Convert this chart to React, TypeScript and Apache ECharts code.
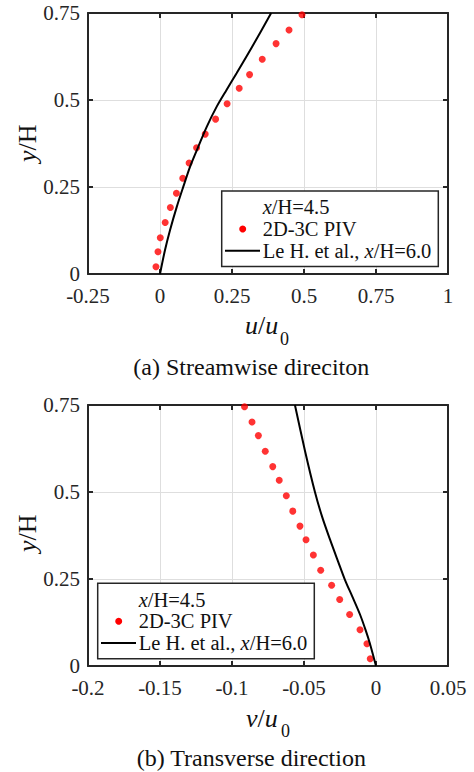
import React, { useEffect, useRef } from "react";
import * as echarts from "echarts";

// Wall-normal positions of the PIV samples (y/H)
const pivY = [0.021, 0.064, 0.104, 0.148, 0.191, 0.232, 0.275, 0.319, 0.363, 0.402, 0.445, 0.489, 0.534, 0.573, 0.617, 0.662, 0.701, 0.745];
// Streamwise velocity u/u0 from 2D-3C PIV at x/H = 4.5
const pivU = [-0.014, -0.007, 0.001, 0.018, 0.036, 0.057, 0.079, 0.101, 0.127, 0.157, 0.193, 0.233, 0.275, 0.311, 0.355, 0.403, 0.448, 0.493];
// Transverse velocity v/u0 from 2D-3C PIV at x/H = 4.5
const pivV = [-0.004, -0.0063, -0.0111, -0.0183, -0.0252, -0.0308, -0.0384, -0.0435, -0.0486, -0.0528, -0.0578, -0.0623, -0.0672, -0.0717, -0.0769, -0.0817, -0.0861, -0.0913];

// Le H. et al. streamwise profile at x/H = 6.0
const leUY = [0, 0.069, 0.126, 0.193, 0.251, 0.308, 0.366, 0.423, 0.481, 0.529, 0.577, 0.653, 0.75];
const leU = [0, 0.0174, 0.0347, 0.0582, 0.081, 0.1042, 0.133, 0.1622, 0.1969, 0.231, 0.266, 0.32, 0.386];
// Le H. et al. transverse profile at x/H = 6.0
const leVY = [0, 0.064, 0.103, 0.148, 0.2, 0.247, 0.3, 0.363, 0.43, 0.5, 0.618, 0.75];
const leV = [0, -0.0042, -0.0072, -0.0111, -0.0165, -0.0215, -0.0263, -0.0319, -0.0375, -0.0424, -0.0493, -0.0563];

// Axis ranges and ticks
const uTicks = { min: -0.25, max: 1, interval: 0.25 };
const vTicks = { min: -0.2, max: 0.05, interval: 0.05 };
const yTicks = { min: 0, max: 0.75, interval: 0.25 };

const FONT = "Liberation Serif";
const INK = "#262626";
const TEXT = "#111111";

const zip = (xs: number[], ys: number[]) => xs.map((x, i) => [x, ys[i]]);

function mainX(grid: number, t: { min: number; max: number; interval: number }) {
  return {
    type: "value",
    gridIndex: grid,
    position: "bottom",
    ...t,
    axisLine: { show: true, onZero: false, lineStyle: { color: INK, width: 2 } },
    axisTick: { show: true, inside: true, length: 5, lineStyle: { color: INK, width: 2 } },
    axisLabel: {
      show: true,
      margin: 11.5,
      fontSize: 21,
      fontFamily: FONT,
      color: INK,
      formatter: (v: number) => String(+v.toFixed(2)),
    },
    splitLine: { show: true, lineStyle: { color: "#dedede", width: 1 } },
  };
}

function sideAxis(grid: number, position: string, t: { min: number; max: number; interval: number }) {
  return {
    type: "value",
    gridIndex: grid,
    position,
    ...t,
    axisLine: { show: true, onZero: false, lineStyle: { color: INK, width: 2 } },
    axisTick: { show: true, inside: true, length: 5, lineStyle: { color: INK, width: 2 } },
    axisLabel: { show: false },
    splitLine: { show: false },
  };
}

function mainY(grid: number) {
  return {
    type: "value",
    gridIndex: grid,
    position: "left",
    ...yTicks,
    axisLine: { show: true, onZero: false, lineStyle: { color: INK, width: 2 } },
    axisTick: { show: true, inside: true, length: 5, lineStyle: { color: INK, width: 2 } },
    axisLabel: {
      show: true,
      margin: 8,
      fontSize: 21,
      fontFamily: FONT,
      color: INK,
      formatter: (v: number) => String(+v.toFixed(2)),
    },
    splitLine: { show: true, lineStyle: { color: "#dedede", width: 1 } },
  };
}

const rich = {
  i: { fontStyle: "italic", fontFamily: FONT, fontSize: 20.5, fill: TEXT },
  n: { fontFamily: FONT, fontSize: 20.5, fill: TEXT },
};
const richName = {
  i: { fontStyle: "italic", fontFamily: FONT, fontSize: 26, fill: TEXT },
  n: { fontFamily: FONT, fontSize: 26, fill: TEXT },
};

function legend(left: number, top: number) {
  const tx = left + 41;
  return [
    {
      type: "rect",
      z: 10,
      shape: { x: left, y: top, width: 216.6, height: 75.5 },
      style: { fill: "#fff", stroke: INK, lineWidth: 1.5 },
    },
    {
      type: "text",
      z: 11,
      x: tx,
      y: top + 16.3,
      style: {
        text: "{i|x}{n|/H=4.5}",
        rich,
        fontSize: 20.5,
        fontFamily: FONT,
        fill: TEXT,
        textAlign: "left",
        textVerticalAlign: "middle",
      },
    },
    {
      type: "circle",
      z: 11,
      shape: { cx: left + 21, cy: top + 38, r: 3.5 },
      style: { fill: "#ff0000" },
    },
    {
      type: "text",
      z: 11,
      x: tx,
      y: top + 38,
      style: {
        text: "2D-3C PIV",
        fontSize: 20.5,
        fontFamily: FONT,
        fill: TEXT,
        textAlign: "left",
        textVerticalAlign: "middle",
      },
    },
    {
      type: "line",
      z: 11,
      shape: { x1: left + 3.3, y1: top + 59.7, x2: left + 38.3, y2: top + 59.7 },
      style: { stroke: "#000", lineWidth: 2 },
    },
    {
      type: "text",
      z: 11,
      x: tx,
      y: top + 59.7,
      style: {
        text: "{n|Le H. et al., }{i|x}{n|/H=6.0}",
        rich,
        fontSize: 20.5,
        fontFamily: FONT,
        fill: TEXT,
        textAlign: "left",
        textVerticalAlign: "middle",
      },
    },
  ];
}

function axisName(letter: string, x: number, y: number) {
  return [
    {
      type: "text",
      x,
      y,
      style: {
        text: `{i|${letter}}{n|/}{i|u}`,
        rich: richName,
        fontSize: 26,
        fontFamily: FONT,
        fill: TEXT,
        textAlign: "left",
        textVerticalAlign: "middle",
      },
    },
    {
      type: "text",
      x: x + 35,
      y: y + 13,
      style: {
        text: "0",
        fontSize: 18,
        fontFamily: FONT,
        fill: TEXT,
        textAlign: "left",
        textVerticalAlign: "middle",
      },
    },
  ];
}

function yName(y: number) {
  return {
    type: "text",
    x: 27,
    y,
    rotation: Math.PI / 2,
    style: {
      text: "{i|y}{n|/H}",
      rich: richName,
      fontSize: 26,
      fontFamily: FONT,
      fill: TEXT,
      textAlign: "center",
      textVerticalAlign: "middle",
    },
  };
}

function caption(text: string, y: number) {
  return {
    type: "text",
    x: 251.3,
    y,
    style: {
      text,
      fontSize: 24,
      fontFamily: FONT,
      fill: TEXT,
      textAlign: "center",
      textVerticalAlign: "middle",
    },
  };
}

export default function App() {
  const ref = useRef<HTMLDivElement>(null);

  useEffect(() => {
    if (!ref.current) return;
    const chart = echarts.init(ref.current, undefined, { renderer: "svg" });
    chart.setOption({
      animation: false,
      backgroundColor: "#ffffff",
      textStyle: { fontFamily: FONT },
      grid: [
        { left: 88, top: 13, width: 360, height: 261 },
        { left: 88, top: 405, width: 360, height: 261 },
      ],
      xAxis: [
        mainX(0, uTicks),
        sideAxis(0, "top", uTicks),
        mainX(1, vTicks),
        sideAxis(1, "top", vTicks),
      ],
      yAxis: [
        mainY(0),
        sideAxis(0, "right", yTicks),
        mainY(1),
        sideAxis(1, "right", yTicks),
      ],
      series: [
        {
          name: "2D-3C PIV",
          type: "scatter",
          xAxisIndex: 0,
          yAxisIndex: 0,
          data: zip(pivU, pivY),
          symbolSize: 7,
          itemStyle: { color: "#ff0000" },
        },
        {
          name: "Le H. et al., x/H=6.0",
          type: "line",
          xAxisIndex: 0,
          yAxisIndex: 0,
          data: zip(leU, leUY),
          showSymbol: false,
          smooth: 0.3,
          lineStyle: { color: "#000", width: 2 },
        },
        {
          name: "2D-3C PIV",
          type: "scatter",
          xAxisIndex: 2,
          yAxisIndex: 2,
          data: zip(pivV, pivY),
          symbolSize: 7,
          itemStyle: { color: "#ff0000" },
        },
        {
          name: "Le H. et al., x/H=6.0",
          type: "line",
          xAxisIndex: 2,
          yAxisIndex: 2,
          data: zip(leV, leVY),
          showSymbol: false,
          smooth: 0.3,
          lineStyle: { color: "#000", width: 2 },
        },
      ],
      graphic: [
        ...legend(221.7, 191),
        ...legend(97.7, 583.3),
        ...axisName("u", 245, 325.5),
        ...axisName("v", 246, 718),
        yName(143.3),
        yName(533.3),
        caption("(a) Streamwise direciton", 367.3),
        caption("(b) Transverse direction", 758),
      ],
    });
    return () => chart.dispose();
  }, []);

  return (
    <div
      ref={ref}
      style={{ position: "fixed", left: 0, top: 0, width: 474, height: 772 }}
    />
  );
}
